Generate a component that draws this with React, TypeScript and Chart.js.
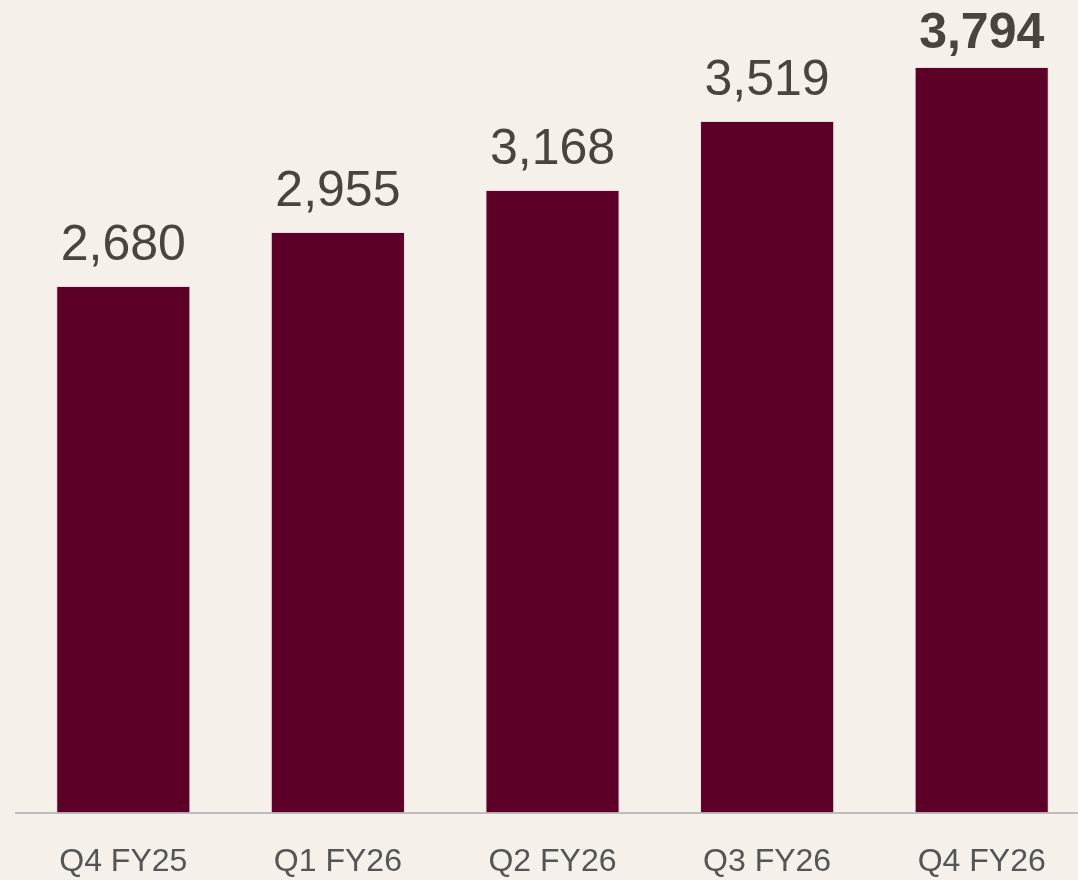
import React, { useEffect, useRef } from "react";
import { Chart, registerables } from "chart.js";

Chart.register(...registerables);

const categories = ["Q4 FY25", "Q1 FY26", "Q2 FY26", "Q3 FY26", "Q4 FY26"];
const values = [2680, 2955, 3168, 3519, 3794];
const valueLabels = ["2,680", "2,955", "3,168", "3,519", "3,794"];
const boldLabel = [false, false, false, false, true];

const BG = "#f5f0e9";
const BAR = "#5d0027";
const FONT = "'Liberation Sans', Arial, Helvetica, sans-serif";

const labelPlugin = {
  id: "valueLabels",
  afterDatasetsDraw(chart: any) {
    const ctx = chart.ctx;
    const meta = chart.getDatasetMeta(0);
    ctx.save();
    ctx.textAlign = "center";
    ctx.textBaseline = "alphabetic";
    ctx.fillStyle = "#48443e";
    meta.data.forEach((bar: any, i: number) => {
      const bold = boldLabel[i];
      ctx.font = `${bold ? "bold " : ""}50px ${FONT}`;
      ctx.fillText(valueLabels[i], bar.x, bar.y - (bold ? 19 : 26));
    });
    ctx.restore();
  },
};

const bgPlugin = {
  id: "bg",
  beforeDraw(chart: any) {
    const ctx = chart.ctx;
    ctx.save();
    ctx.fillStyle = BG;
    ctx.fillRect(0, 0, chart.width, chart.height);
    ctx.restore();
  },
};

export default function App() {
  const ref = useRef<HTMLCanvasElement>(null);
  useEffect(() => {
    if (!ref.current) return;
    const chart = new Chart(ref.current, {
      type: "bar",
      data: {
        labels: categories,
        datasets: [
          {
            data: values,
            backgroundColor: BAR,
            borderColor: "#e6dcdc",
            borderWidth: 1,
            barPercentage: 0.625,
            categoryPercentage: 1,
          },
        ],
      },
      options: {
        animation: false,
        responsive: false,
        maintainAspectRatio: false,
        layout: { padding: { left: 16, right: 0, top: 0, bottom: 0 } },
        plugins: { legend: { display: false }, tooltip: { enabled: false } },
        scales: {
          x: {
            grid: { display: false, drawTicks: false },
            border: { display: true, color: "#bdbdbd", width: 2 },
            ticks: {
              color: "#555555",
              font: { family: FONT, size: 32 },
              padding: 30,
            },
          },
          y: {
            display: false,
            min: 0,
            max: 4135,
          },
        },
      },
      plugins: [bgPlugin, labelPlugin],
    });
    return () => chart.destroy();
  }, []);
  return (
    <div
      style={{
        position: "fixed",
        left: 0,
        top: 0,
        width: 1078,
        height: 880,
        overflow: "hidden",
        background: BG,
      }}
    >
      <canvas ref={ref} width={1089} height={911} style={{ display: "block" }} />
    </div>
  );
}
